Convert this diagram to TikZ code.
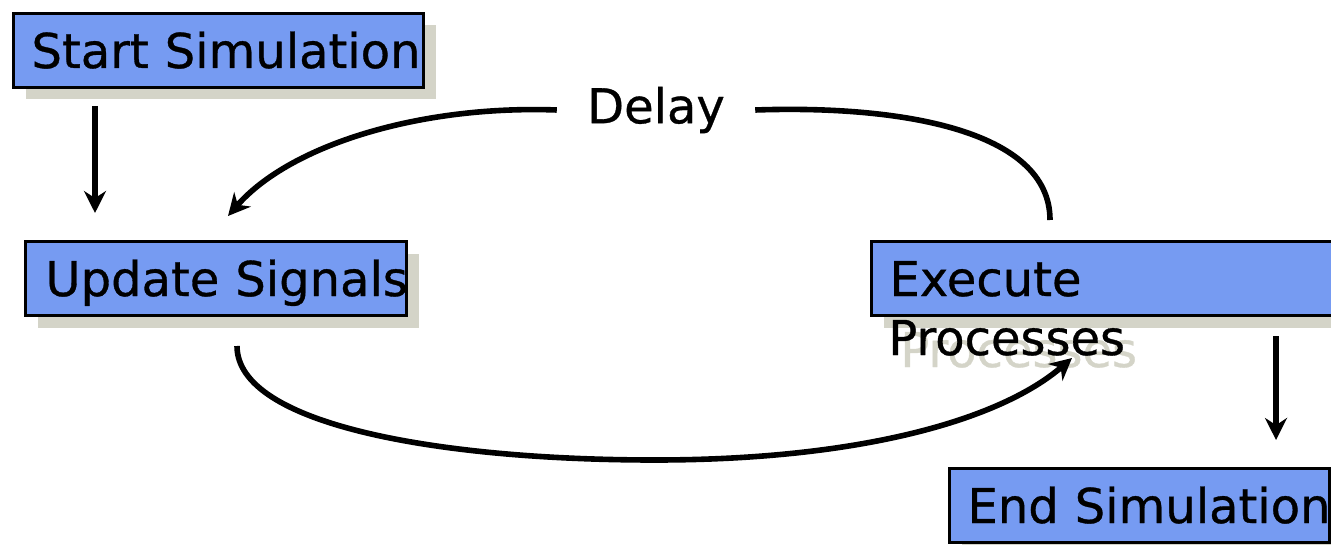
\documentclass[tikz,border=0pt]{standalone}
\usepackage{fontspec}
\setmainfont{DejaVu Sans}[RawFeature={embolden=0.7}]
\usetikzlibrary{arrows.meta}
\usetikzlibrary{shadows}
\definecolor{boxblue}{RGB}{118,155,242}
\definecolor{shadegray}{RGB}{212,212,200}

\begin{document}
\begin{tikzpicture}[x=0.5pt,y=-0.5pt,>={Stealth[length=11pt,width=11pt]},
    font=\fontsize{24}{30}\selectfont,
    block/.style={draw,line width=1.5pt,fill=boxblue,anchor=north west,
      minimum height=37pt,inner ysep=0pt,inner xsep=9pt,
      text height=17.5pt,text depth=0pt,align=left,text width=#1,
      drop shadow={shadow xshift=6pt,shadow yshift=-6pt,fill=shadegray,opacity=1}},
    link/.style={line width=2.8pt}]
  \useasboundingbox (0,0) rectangle (1331,545);

  \node[block=187pt] (start) at (12,12) {\mbox{Start Simulation}};
  \node[block=170.5pt,inner xsep=10pt] (upd) at (24,240) {\mbox{Update Signals}};
  \node[block=232pt] (exec) at (870,240) {Execute};
  \node[block=172pt] (end) at (948,467) {\mbox{End Simulation}};

  \node[anchor=base west,inner sep=0pt,text=shadegray] (procshade) at (900,367) {Processes};
  \node[anchor=base west,inner sep=0pt] (proc) at (888,355) {Processes};
  \node[inner xsep=15pt] (delay) at (656,110) {Delay};

  \draw[link,->] ([xshift=41.5pt,yshift=-8.5pt]start.south west)
    -- ([xshift=35.5pt,yshift=13.5pt]upd.north west);
  \draw[link,->] ([xshift=203pt,yshift=-9.5pt]exec.south west)
    -- ([xshift=164pt,yshift=13.5pt]end.north west);

  % delay loop back to the update step
  \draw[link] ([xshift=90pt,yshift=10pt]exec.north west)
    .. controls (1050,130) and (900,105) .. (delay.east);
  \draw[link,->] (delay.west)
    .. controls (420,105) and (290,145) .. ([xshift=102pt,yshift=12pt]upd.north west);
  \draw[link,->] ([xshift=106.5pt,yshift=-14.5pt]upd.south west)
    .. controls (237,425) and (440,460) .. (655,460)
    .. controls (860,460) and (1000,420) .. ([xshift=101pt,yshift=-20.5pt]exec.south west);
\end{tikzpicture}
\end{document}
